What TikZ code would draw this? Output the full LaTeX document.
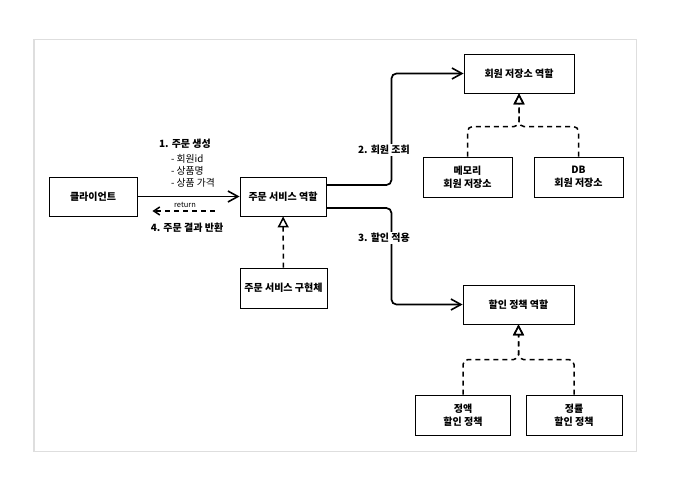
\documentclass[tikz,border=0pt]{standalone}
\usepackage{fontspec}
\setmainfont{Noto Sans CJK KR}
\usetikzlibrary{arrows.meta,calc}
\definecolor{framegray}{HTML}{DEDEDE}
\tikzset{
  box/.style={draw=black,line width=0.9pt,fill=white,inner sep=0pt,align=center,font=\fontsize{10}{13}\selectfont\bfseries},
  flow/.style={line width=1.7pt,rounded corners=5pt,-{Straight Barb[length=10pt,width=11pt,line width=1.6pt]}},
  back/.style={line width=1.5pt,dash pattern=on 5pt off 4pt,-{Straight Barb[length=6pt,width=8pt,line width=1.5pt]}},
  impl/.style={line width=1.5pt,dash pattern=on 5pt off 4pt,rounded corners=5pt,-{Triangle[open,length=11pt,width=11pt,line width=1.5pt]}},
  lbl/.style={font=\fontsize{10}{12}\selectfont\bfseries,inner sep=1pt},
  lblw/.style={lbl,fill=white},
  small/.style={font=\fontsize{9.8}{12}\selectfont,inner sep=0pt,align=left},
  tiny/.style={font=\fontsize{7.5}{8}\selectfont,inner sep=0pt}
}
\begin{document}
\begin{tikzpicture}[x=1pt,y=-1pt]
\useasboundingbox (0,0) rectangle (676,480);
\draw[framegray,line width=1.3pt,fill=white] (34,39.5) rectangle (636.5,451.5);

\node[box,minimum width=88pt,minimum height=39pt] (client) at (93,196.5) {클라이언트};
\node[box,minimum width=86pt,minimum height=39pt] (osr) at (283,196.5) {주문 서비스 역할};
\node[box,minimum width=87pt,minimum height=40pt] (osi) at (283.5,288) {주문 서비스 구현체};
\node[box,minimum width=110pt,minimum height=39pt] (mrr) at (519,73.5) {회원 저장소 역할};
\node[box,minimum width=89pt,minimum height=40pt] (mem) at (467.5,177) {메모리\\회원 저장소};
\node[box,minimum width=89pt,minimum height=40pt] (db) at (578.5,177) {DB\\회원 저장소};
\node[box,minimum width=111pt,minimum height=39pt] (dpr) at (518.5,304.5) {할인 정책 역할};
\node[box,minimum width=95pt,minimum height=40pt] (fix) at (463,415) {정액\\할인 정책};
\node[box,minimum width=96pt,minimum height=40pt] (rate) at (574,415) {정률\\할인 정책};

% client -> order service
\draw[flow] (client) -- (osr);
% return
\coordinate (rs) at ($(osr.west)+(-25,14.5)$);
\coordinate (re) at ($(client.east)+(15,14.5)$);
\draw[back] (rs) -- (re);

% order service -> member repo / discount policy
\draw[flow] ([yshift=11.5pt]osr.east) -- ++(65,0) |- (mrr.west);
\draw[flow] ([yshift=-11.5pt]osr.east) -- ++(65,0) |- (dpr.west);

% implementations
\draw[impl] (osi) -- (osr);
\draw[impl] (mem.north) -- ++(0,-30) -| (mrr.south);
\draw[impl] (db.north) -- ++(0,-30) -| (mrr.south);
\draw[impl] (fix.north) -- ++(0,-35) -| (dpr.south);
\draw[impl] (rate.north) -- ++(0,-35) -| (dpr.south);

% labels
\node[lbl] (l1) at (185,144) {1. 주문 생성};
\node[small] (items) at (193,171) {- 회원id\\- 상품명\\- 상품 가격};
\node[tiny] (ret) at (185,205) {return};
\node[lbl] (l4) at (187,228) {4. 주문 결과 반환};
\node[lblw] (l2) at (384,150) {2. 회원 조회};
\node[lblw] (l3) at (384,238) {3. 할인 적용};
\end{tikzpicture}
\end{document}
